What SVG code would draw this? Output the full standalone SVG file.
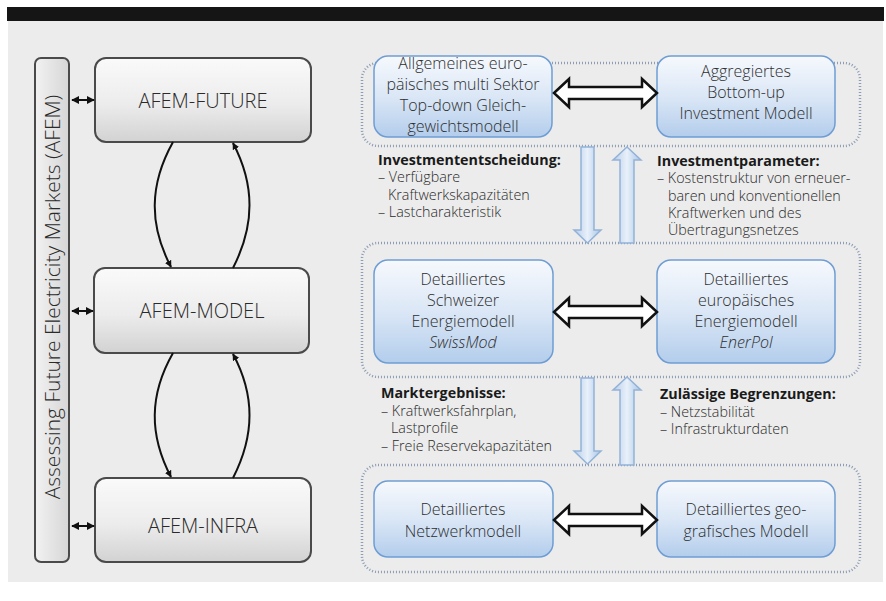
<svg xmlns="http://www.w3.org/2000/svg" width="886" height="601" viewBox="0 0 886 601">
<defs>
<linearGradient id="gGray" x1="0" y1="0" x2="0" y2="1">
<stop offset="0" stop-color="#fafafa"/><stop offset="0.55" stop-color="#ececec"/><stop offset="1" stop-color="#d2d2d2"/>
</linearGradient>
<linearGradient id="gBar" x1="0" y1="0" x2="1" y2="0">
<stop offset="0" stop-color="#f2f2f2"/><stop offset="1" stop-color="#d6d6d6"/>
</linearGradient>
<linearGradient id="gBlue" x1="0" y1="0" x2="0" y2="1">
<stop offset="0" stop-color="#f6f9fd"/><stop offset="0.5" stop-color="#dbe7f6"/><stop offset="1" stop-color="#b3cdec"/>
</linearGradient>
<linearGradient id="gArr" x1="0" y1="0" x2="1" y2="0">
<stop offset="0" stop-color="#b6cdea"/><stop offset="0.5" stop-color="#e8f0fa"/><stop offset="1" stop-color="#a9c5e6"/>
</linearGradient>
<marker id="mh" viewBox="0 0 10 10" refX="9" refY="5" markerWidth="4" markerHeight="4" orient="auto-start-reverse">
<path d="M0,0 L10,5 L0,10 Z" fill="#111"/>
</marker>
<marker id="mc" viewBox="0 0 10 10" refX="9" refY="5" markerWidth="3.5" markerHeight="3.5" orient="auto">
<path d="M0,0 L10,5 L0,10 Z" fill="#111"/>
</marker>
</defs>
<style>
.gnode{fill:url(#gGray);stroke:#4a4a4a;stroke-width:2}
.bnode{fill:url(#gBlue);stroke:#6f9dd3;stroke-width:1.5}
.cont{fill:none;stroke:#8d9db3;stroke-width:2.5;stroke-dasharray:1 2}
.gt{font-family:"Open Sans","Liberation Sans",sans-serif;font-weight:300;font-size:20px;fill:#2a2a2a;text-anchor:middle}
.bt{font-family:"Open Sans","Liberation Sans",sans-serif;font-weight:300;font-size:16px;fill:#2e2e2e;text-anchor:middle}
.it{font-style:italic}
.lab{font-family:"Open Sans","Liberation Sans",sans-serif;font-weight:300;font-size:14.3px;fill:#2a2a2a}
.hd{font-weight:700;fill:#1a1a1a}
.sm{stroke:#111;stroke-width:2;fill:none;marker-start:url(#mh);marker-end:url(#mh)}
.cv{stroke:#111;stroke-width:2;fill:none;marker-end:url(#mc)}
.wa{fill:#fff;stroke:#111;stroke-width:2.5;stroke-linejoin:miter}
.ba{fill:url(#gArr);stroke:#93b2d8;stroke-width:1.5}
</style>
<rect x="0" y="0" width="886" height="601" fill="#ffffff"/>
<rect x="8" y="20" width="875" height="562" fill="#ececec"/>
<rect x="7" y="7" width="877" height="14" fill="#151515"/>

<g id="containers">
<rect class="cont" x="362" y="63" width="498" height="83" rx="16"/>
<rect class="cont" x="362" y="243" width="498" height="134" rx="16"/>
<rect class="cont" x="362" y="465" width="498" height="107" rx="16"/>
</g>

<g id="afem-bar">
<rect x="35" y="58" width="34" height="504" rx="6" fill="url(#gBar)" stroke="#4a4a4a" stroke-width="2"/>
<text class="gt" transform="translate(60,297) rotate(-90)" style="font-size:21px">Assessing Future Electricity Markets (AFEM)</text>
</g>

<g id="afem-future">
<rect class="gnode" x="95" y="58" width="216" height="84" rx="11"/>
<text class="gt" x="203" y="108">AFEM-FUTURE</text>
</g>
<g id="afem-model">
<rect class="gnode" x="94" y="268" width="215" height="85" rx="11"/>
<text class="gt" x="202" y="318">AFEM-MODEL</text>
</g>
<g id="afem-infra">
<rect class="gnode" x="95" y="478" width="216" height="84" rx="11"/>
<text class="gt" x="203" y="533">AFEM-INFRA</text>
</g>

<g id="n-allg">
<rect class="bnode" x="374" y="56" width="178" height="81" rx="14"/>
<text class="bt" x="463" y="69">Allgemeines euro-</text>
<text class="bt" x="463" y="90">päisches multi Sektor</text>
<text class="bt" x="463" y="111">Top-down Gleich-</text>
<text class="bt" x="463" y="132">gewichtsmodell</text>
</g>
<g id="n-aggr">
<rect class="bnode" x="657" y="56" width="178" height="81" rx="14"/>
<text class="bt" x="746" y="77">Aggregiertes</text>
<text class="bt" x="746" y="98">Bottom-up</text>
<text class="bt" x="746" y="119">Investment Modell</text>
</g>
<g id="n-swiss">
<rect class="bnode" x="374" y="260" width="179" height="103" rx="14"/>
<text class="bt" x="463" y="285">Detailliertes</text>
<text class="bt" x="463" y="306">Schweizer</text>
<text class="bt" x="463" y="327">Energiemodell</text>
<text class="bt it" x="463" y="348">SwissMod</text>
</g>
<g id="n-euro">
<rect class="bnode" x="657" y="260" width="178" height="103" rx="14"/>
<text class="bt" x="746" y="285">Detailliertes</text>
<text class="bt" x="746" y="306">europäisches</text>
<text class="bt" x="746" y="327">Energiemodell</text>
<text class="bt it" x="746" y="348">EnerPol</text>
</g>
<g id="n-netz">
<rect class="bnode" x="374" y="481" width="179" height="76" rx="14"/>
<text class="bt" x="463" y="515">Detailliertes</text>
<text class="bt" x="463" y="537">Netzwerkmodell</text>
</g>
<g id="n-geo">
<rect class="bnode" x="657" y="481" width="178" height="76" rx="14"/>
<text class="bt" x="746" y="515">Detailliertes geo-</text>
<text class="bt" x="746" y="537">grafisches Modell</text>
</g>

<g id="connectors">
<line class="sm" x1="72" y1="100" x2="94" y2="100"/>
<line class="sm" x1="72" y1="311" x2="93" y2="311"/>
<line class="sm" x1="72" y1="526" x2="94" y2="526"/>
<path class="cv" d="M173,142 C149,185 149,225 171,267"/>
<path class="cv" d="M233,268 C255,225 255,185 233,143"/>
<path class="cv" d="M173,353 C149,395 149,435 171,477"/>
<path class="cv" d="M233,478 C255,435 255,395 233,354"/>

<path class="wa" d="M554,93 L569,79 V87 H642 V79 L657,93 L642,107 V99 H569 V107 Z"/>
<path class="wa" d="M554,312 L569,298 V306 H642 V298 L657,312 L642,326 V318 H569 V326 Z"/>
<path class="wa" d="M554,520 L569,506 V514 H642 V506 L657,520 L642,534 V526 H569 V534 Z"/>

<path class="ba" d="M581,147 H594 V230 H601 L587.5,243 L574,230 H581 Z"/>
<path class="ba" d="M627,147 L641,160 H634 V243 H620 V160 H613 Z"/>
<path class="ba" d="M581,378 H594 V451 H601 L587.5,464 L574,451 H581 Z"/>
<path class="ba" d="M627,377 L641,390 H634 V465 H620 V390 H613 Z"/>
</g>

<g id="labels">
<text class="lab hd" x="378" y="165">Investmententscheidung:</text>
<text class="lab" x="378" y="182">– Verfügbare</text>
<text class="lab" x="388" y="200">Kraftwerkskapazitäten</text>
<text class="lab" x="378" y="217">– Lastcharakteristik</text>

<text class="lab hd" x="657" y="166">Investmentparameter:</text>
<text class="lab" x="657" y="183">– Kostenstruktur von erneuer-</text>
<text class="lab" x="668" y="201">baren und konventionellen</text>
<text class="lab" x="668" y="218">Kraftwerken und des</text>
<text class="lab" x="668" y="235">Übertragungsnetzes</text>

<text class="lab hd" x="381" y="398">Marktergebnisse:</text>
<text class="lab" x="381" y="416">– Kraftwerksfahrplan,</text>
<text class="lab" x="391" y="433">Lastprofile</text>
<text class="lab" x="381" y="451">– Freie Reservekapazitäten</text>

<text class="lab hd" x="660" y="399">Zulässige Begrenzungen:</text>
<text class="lab" x="660" y="417">– Netzstabilität</text>
<text class="lab" x="660" y="434">– Infrastrukturdaten</text>
</g>
</svg>
